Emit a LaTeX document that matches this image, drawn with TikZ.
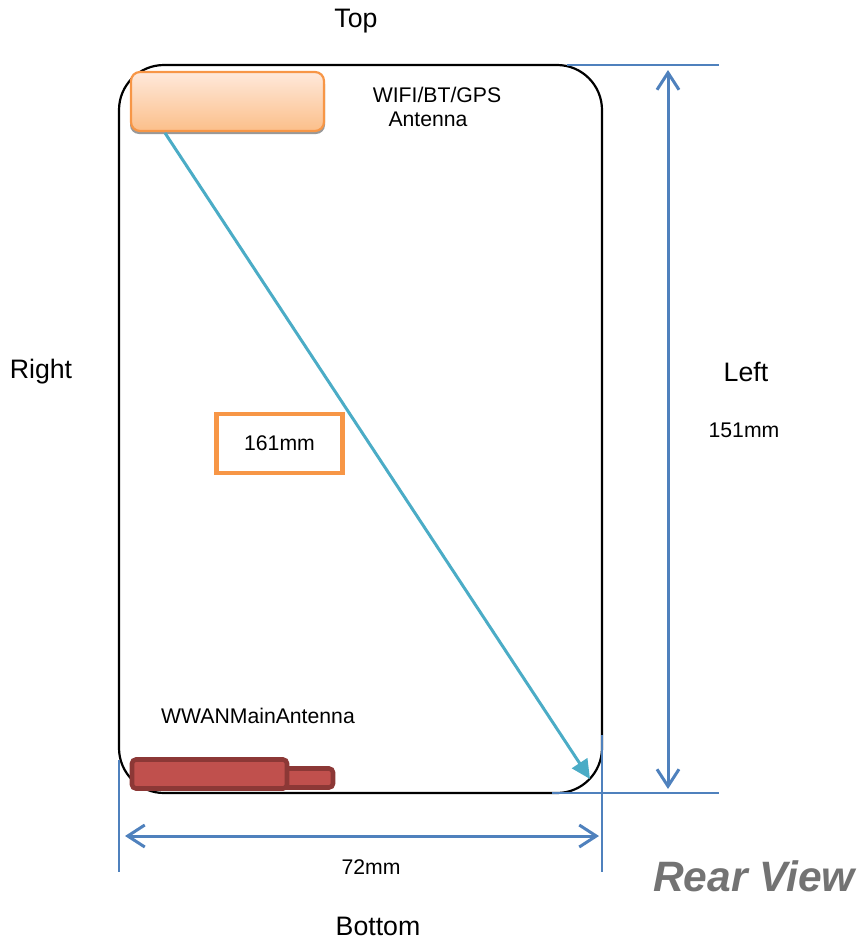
\documentclass[tikz,border=0pt]{standalone}
\usepackage{fontspec}
\setmainfont{Liberation Sans}
\usetikzlibrary{arrows.meta,shadows}
\definecolor{dimblue}{HTML}{4F81BD}
\definecolor{diagcyan}{HTML}{4BACC6}
\definecolor{antorange}{HTML}{F79646}
\definecolor{wlantop}{HTML}{FEE9DB}
\definecolor{wlanbot}{HTML}{FCBF8A}
\definecolor{antred}{HTML}{C0504D}
\definecolor{antredline}{HTML}{8C3836}
\tikzset{
 x=1pt,y=-1pt,
 bigtext/.style={inner sep=0pt,font=\fontsize{26.7}{30}\selectfont,text=black},
 smalltext/.style={inner sep=0pt,font=\fontsize{21.2}{25}\selectfont,text=black},
 dimline/.style={draw=dimblue,line width=1.8pt},
 dimarrow/.style={draw=dimblue,line width=3pt,{Straight Barb[length=17pt,width=22pt,line width=3pt]}-{Straight Barb[length=17pt,width=22pt,line width=3pt]}},
 wlan/.style={draw=antorange,line width=2.2pt,rounded corners=9pt,top color=wlantop,bottom color=wlanbot,minimum width=193pt,minimum height=59pt,inner sep=0pt},
 wwan/.style={draw=antredline,fill=antred,line width=4.6pt,rounded corners=4pt,inner sep=0pt},
}
\begin{document}
\begin{tikzpicture}
\useasboundingbox (0,0) rectangle (858,940);
\coordinate (tl) at (567,65); \coordinate (tr) at (719,65);
\coordinate (bl) at (552,793); \coordinate (br) at (719,793);
\coordinate (vl) at (119,760); \coordinate (vlb) at (119,872);
\coordinate (vr) at (602,735); \coordinate (vrb) at (602,872);
\coordinate (va) at (668,70); \coordinate (vb) at (668,789);
\coordinate (ha) at (125,836); \coordinate (hb) at (599,836);
\node[draw=black,line width=2.2pt,rounded corners=45pt,minimum width=483pt,minimum height=728pt,inner sep=0pt] (body) at (360.5,429) {};
\draw[dimline] (tl) -- (tr);
\draw[dimline] (bl) -- (br);
\draw[dimline] (vl) -- (vlb);
\draw[dimline] (vr) -- (vrb);
\draw[dimarrow] (va) -- (vb);
\draw[dimarrow] (ha) -- (hb);
\fill[black!40,rounded corners=9pt] (130,75) rectangle (325,134);
\node[wlan] (wifi) at (227.5,101.5) {};
\coordinate (diagend) at (590,779);
\draw[draw=diagcyan,line width=3pt,-{Triangle[length=19pt,width=18pt]}] (165,133) -- (diagend);
\node[wwan,minimum width=60pt,minimum height=19pt] (wwansmall) at (303,778) {};
\node[wwan,minimum width=155pt,minimum height=29pt] (wwanbig) at (209.5,774) {};
\node[draw=antorange,line width=4.6pt,minimum width=126pt,minimum height=59pt,inner sep=0pt,smalltext] (diag) at (279.5,443.5) {161mm};
\node[bigtext] (top) at (356,21) {Top};
\node[bigtext] (bottom) at (378,926) {Bottom};
\node[bigtext] (right) at (41,372) {Right};
\node[bigtext] (left) at (746,372) {Left};
\node[smalltext] (w) at (437,95) {WIFI/BT/GPS};
\node[smalltext] (w2) at (428,119) {Antenna};
\node[smalltext] (m) at (258,716) {WWANMainAntenna};
\node[smalltext] (d151) at (744,430) {151mm};
\node[smalltext] (d72) at (371,867) {72mm};
\node[inner sep=0pt,font=\fontsize{42.5}{50}\bfseries\itshape\selectfont,text=black!55] (rv) at (754,876) {Rear View};
\end{tikzpicture}
\end{document}
